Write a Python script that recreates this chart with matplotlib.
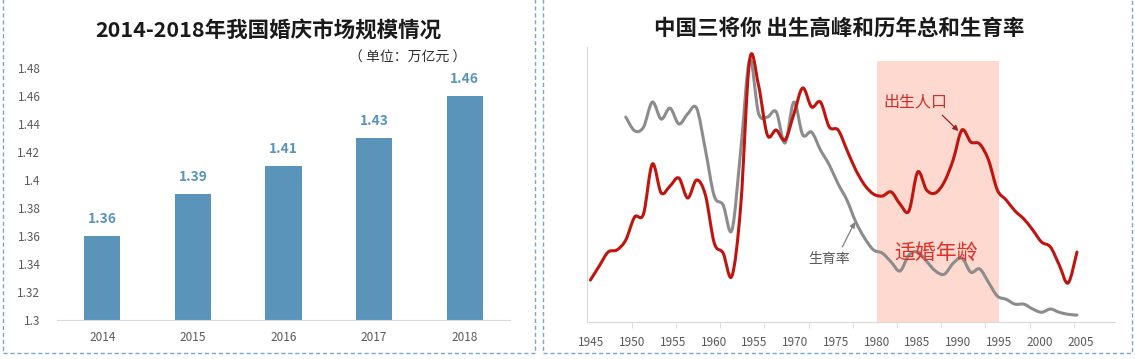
import numpy as np
import matplotlib.pyplot as plt
from matplotlib.patches import Rectangle, PathPatch
from matplotlib.path import Path

plt.rcParams['font.family'] = ['Noto Sans CJK SC', 'DejaVu Sans']

# left chart: market size (万亿元)
bar_years = ['2014', '2015', '2016', '2017', '2018']
market = [1.36, 1.39, 1.41, 1.43, 1.46]

# right chart: births (万人) and total fertility rate
birth_years = list(range(1945, 2001))
births = [1176, 1290, 1403, 1420, 1501, 1687, 1711, 2117, 1882, 1938,
          2003, 1841, 1987, 1865, 1476, 1395, 1209, 1784, 2960, 2757,
          2352, 2392, 2311, 2522, 2733, 2579, 2619, 2417, 2392, 2230,
          2068, 1946, 1873, 1857, 1890, 1792, 1736, 2052, 1906, 1882,
          1971, 2149, 2392, 2295, 2279, 2149, 1906, 1825, 1736, 1671,
          1582, 1484, 1444, 1298, 1152, 1403]
tfr_years = list(range(1949, 2001))
tfr = [6.09, 5.75, 5.84, 6.46, 6.04, 6.31, 5.92, 6.17, 6.31, 5.28,
       4.14, 3.92, 3.30, 5.28, 7.50, 6.19, 6.09, 6.22, 5.45, 6.46,
       5.65, 5.72, 5.28, 4.91, 4.44, 4.04, 3.50, 3.10, 2.81, 2.73,
       2.51, 2.29, 2.68, 2.76, 2.53, 2.29, 2.21, 2.48, 2.61, 2.26,
       2.34, 2.01, 1.67, 1.59, 1.47, 1.47, 1.35, 1.27, 1.35, 1.27,
       1.22, 1.20]
x_labels = ['1945', '1950', '1955', '1960', '1955', '1970', '1975',
            '1980', '1985', '1990', '1995', '2000', '2005']

W, H = 1135, 359
fig = plt.figure(figsize=(W / 100, H / 100), dpi=100)


def box(x0, x1, y1):
    fig.add_artist(Rectangle((x0 / W, (H - y1) / H), (x1 - x0) / W, (y1 + 3) / H,
                             transform=fig.transFigure, fill=False,
                             edgecolor='#7aa6cf', lw=1, ls=(0, (3, 2))))


def smooth_line(a, xs, ys, color):
    # Excel-style smoothed line: cubic Bezier segments through the data points
    p = np.column_stack([xs, ys]).astype(float)
    ext = np.vstack([p[0], p, p[-1]])
    verts = [p[0]]
    codes = [Path.MOVETO]
    for i in range(len(p) - 1):
        c1 = ext[i + 1] + (ext[i + 2] - ext[i]) / 6
        c2 = ext[i + 2] - (ext[i + 3] - ext[i + 1]) / 6
        verts += [c1, c2, p[i + 1]]
        codes += [Path.CURVE4] * 3
    a.add_patch(PathPatch(Path(verts, codes), fill=False, edgecolor=color,
                          lw=2.2, joinstyle='round', capstyle='round'))


box(3, 535, 353)
box(543, 1132, 353)

# ---- left: bar chart ----
ax1 = fig.add_axes([57 / W, (H - 320) / H, 453 / W, 252 / H])
bars = ax1.bar(range(len(market)), market, width=0.4, color='#5b94bb')
ax1.bar_label(bars, fmt='%.2f', padding=7, fontsize=10, fontweight='bold',
              color='#5b94bb')
ax1.set_xlim(-0.5, len(market) - 0.5)
ax1.set_ylim(1.3, 1.48)
ax1.set_yticks(np.arange(1.30, 1.481, 0.02))
ax1.set_yticklabels(['1.3', '1.32', '1.34', '1.36', '1.38', '1.4',
                     '1.42', '1.44', '1.46', '1.48'])
ax1.set_xticks(range(len(market)))
ax1.set_xticklabels(bar_years)
ax1.tick_params(axis='both', length=0, labelsize=8.5, labelcolor='#595959')
ax1.tick_params(axis='x', pad=8)
ax1.tick_params(axis='y', pad=12)
for s in ['top', 'right', 'left']:
    ax1.spines[s].set_visible(False)
ax1.spines['bottom'].set_color('#d9d9d9')
fig.text(268 / W, 1 - 31 / H, '2014-2018年我国婚庆市场规模情况', ha='center',
         va='center', fontsize=15.5, fontweight='bold', color='#1a1a1a')
fig.text(408 / W, 1 - 58 / H, '（ 单位：万亿元 ）', ha='center', va='center',
         fontsize=10, color='#333333')

# ---- right: births and fertility ----
x0, x1 = 1944.66, 2004.3
ax = fig.add_axes([587.4 / W, (H - 322) / H, 527.6 / W, 275 / H])
ax.set_xlim(x0, x1)
ax.set_ylim(1.03, 7.82)
label_pos = np.linspace(1945.1, 2000.4, len(x_labels))
ax.axvspan(label_pos[7], label_pos[10], ymax=0.949, color='#fdd9cf', lw=0)
smooth_line(ax, tfr_years, tfr, '#8c8c8c')

ax2 = ax.twinx()
ax2.set_ylim(836, 3065)
smooth_line(ax2, birth_years, births, '#c0150e')

ax.set_xticks(label_pos)
ax.set_xticklabels(x_labels)
ax.set_xticks(x0 + 5 * np.arange(1, 12), minor=True)
ax.tick_params(axis='x', which='major', length=0, pad=10, labelsize=8.5,
               labelcolor='#595959')
ax.tick_params(axis='x', which='minor', length=4, color='#d9d9d9')
ax.set_yticks([])
ax2.set_yticks([])
for a in (ax, ax2):
    a.spines['top'].set_visible(False)
    a.spines['right'].set_visible(False)
ax2.spines['left'].set_visible(False)
ax2.spines['bottom'].set_visible(False)
ax.spines['left'].set_color('#d9d9d9')
ax.spines['bottom'].set_color('#d9d9d9')

ax2.annotate('出生人口', xy=(1986.6, 2384), xytext=(1981.7, 2619),
             ha='center', va='center', fontsize=11.5, color='#c8302a',
             arrowprops=dict(arrowstyle='-|>', color='#a02020', lw=0.9,
                             mutation_scale=8, relpos=(0.85, 0),
                             shrinkA=2, shrinkB=0))
ax.annotate('生育率', xy=(1974.9, 3.50), xytext=(1972.0, 2.58),
            ha='center', va='center', fontsize=10, color='#595959',
            arrowprops=dict(arrowstyle='-|>', color='#808080', lw=0.9,
                            mutation_scale=8, relpos=(0.75, 1),
                            shrinkA=2, shrinkB=0))
ax.text(1984.1, 2.73, '适婚年龄', ha='center', va='center', fontsize=15,
        color='#e0302a')
fig.text(839 / W, 1 - 28.5 / H, '中国三将你 出生高峰和历年总和生育率',
         ha='center', va='center', fontsize=15.5, fontweight='bold',
         color='#1a1a1a')

fig.savefig('out.png', dpi=100)
